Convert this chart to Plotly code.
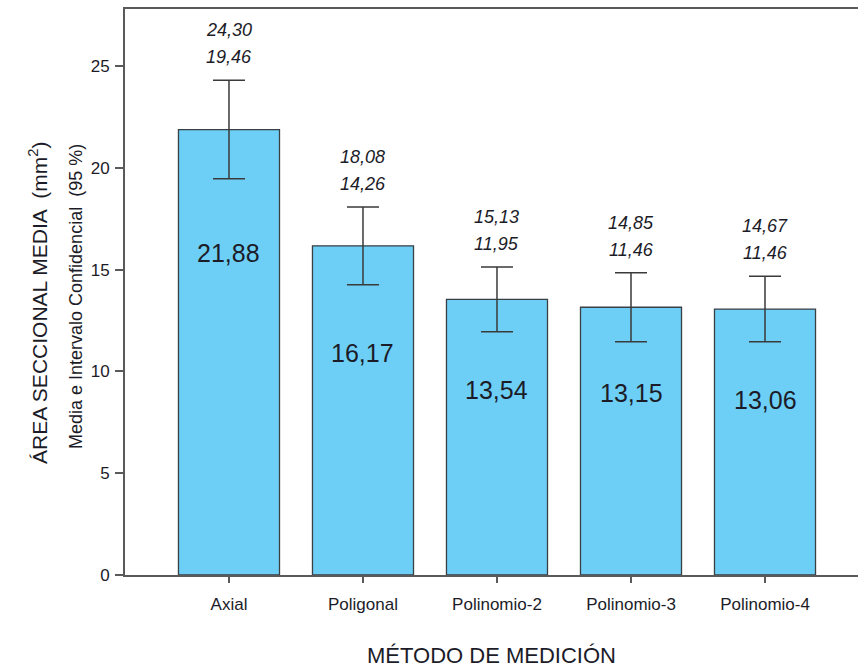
import plotly.graph_objects as go

# Mean cross-sectional area by measurement method, with 95 % CI bounds
methods = ["Axial", "Poligonal", "Polinomio-2", "Polinomio-3", "Polinomio-4"]
means = [21.88, 16.17, 13.54, 13.15, 13.06]
ci_upper = [24.30, 18.08, 15.13, 14.85, 14.67]
ci_lower = [19.46, 14.26, 11.95, 11.46, 11.46]
y_ticks = [0, 5, 10, 15, 20, 25]

# vertical placement of the mean labels inside each bar (data units)
mean_label_y = [15.8, 10.9, 9.1, 8.95, 8.6]


def fmt(v):
    return f"{v:.2f}".replace(".", ",")


x = list(range(len(methods)))
text_col = "#1c1c28"
font_main = "Liberation Sans, Arial"

W, H = 858, 668
L, R, T, B = 125, 0, 9, 93
pw, ph = W - L - R, H - T - B

fig = go.Figure()
fig.add_trace(go.Bar(
    x=x,
    y=means,
    width=0.754,
    marker=dict(color="#6dcff6", line=dict(color="#3a3f44", width=1.3)),
    error_y=dict(
        type="data",
        symmetric=False,
        array=[u - m for u, m in zip(ci_upper, means)],
        arrayminus=[m - l for m, l in zip(means, ci_lower)],
        color="#3a3a3a",
        thickness=1.5,
        width=16,
    ),
    hoverinfo="skip",
))

annotations = []
for i, (m, u, l) in enumerate(zip(means, ci_upper, ci_lower)):
    annotations.append(dict(
        x=i, y=mean_label_y[i], xref="x", yref="y",
        text=fmt(m), showarrow=False,
        font=dict(family=font_main, size=25, color=text_col),
    ))
    # CI bounds stacked above the error bar: lower bound, then upper bound
    annotations.append(dict(
        x=i, y=u, xref="x", yref="y", yanchor="bottom",
        yshift=11,
        text=f"<i>{fmt(l)}</i>", showarrow=False,
        font=dict(family=font_main, size=18, color=text_col),
    ))
    annotations.append(dict(
        x=i, y=u, xref="x", yref="y", yanchor="bottom",
        yshift=38,
        text=f"<i>{fmt(u)}</i>", showarrow=False,
        font=dict(family=font_main, size=18, color=text_col),
    ))


def px_note(text, px, py, size, angle=0):
    # place a note by pixel position within the figure
    return dict(
        x=(px - L) / pw, y=(H - B - py) / ph, xref="paper", yref="paper",
        xanchor="center", yanchor="middle",
        text=text, showarrow=False, textangle=angle,
        font=dict(family=font_main, size=size, color=text_col),
    )


annotations.append(px_note("ÁREA SECCIONAL MEDIA  (mm<sup>2</sup>)", 38, 303, 21, -90))
annotations.append(px_note("Media e Intervalo Confidencial  (95 %)", 76, 297, 18, -90))
annotations.append(px_note("MÉTODO DE MEDICIÓN", 491, 655, 22))

fig.update_layout(
    width=W, height=H,
    margin=dict(l=L, r=R, t=T, b=B, pad=0),
    plot_bgcolor="white", paper_bgcolor="white",
    showlegend=False,
    annotations=annotations,
    xaxis=dict(
        range=[-0.776, 4.694],
        tickmode="array", tickvals=x, ticktext=methods,
        showline=True, linecolor="#5a5a5a", linewidth=2, mirror=True,
        ticks="outside", ticklen=6, tickcolor="#5a5a5a", tickwidth=1.5,
        ticklabelstandoff=7,
        tickfont=dict(family=font_main, size=17, color=text_col),
        showgrid=False, zeroline=False,
    ),
    yaxis=dict(
        range=[0, 27.8],
        tickmode="array", tickvals=y_ticks,
        showline=True, linecolor="#5a5a5a", linewidth=2,
        ticks="outside", ticklen=8, tickcolor="#5a5a5a", tickwidth=1.5,
        ticklabelstandoff=2,
        tickfont=dict(family=font_main, size=17, color=text_col),
        showgrid=False, zeroline=False,
    ),
)

fig.write_html("out.html")
